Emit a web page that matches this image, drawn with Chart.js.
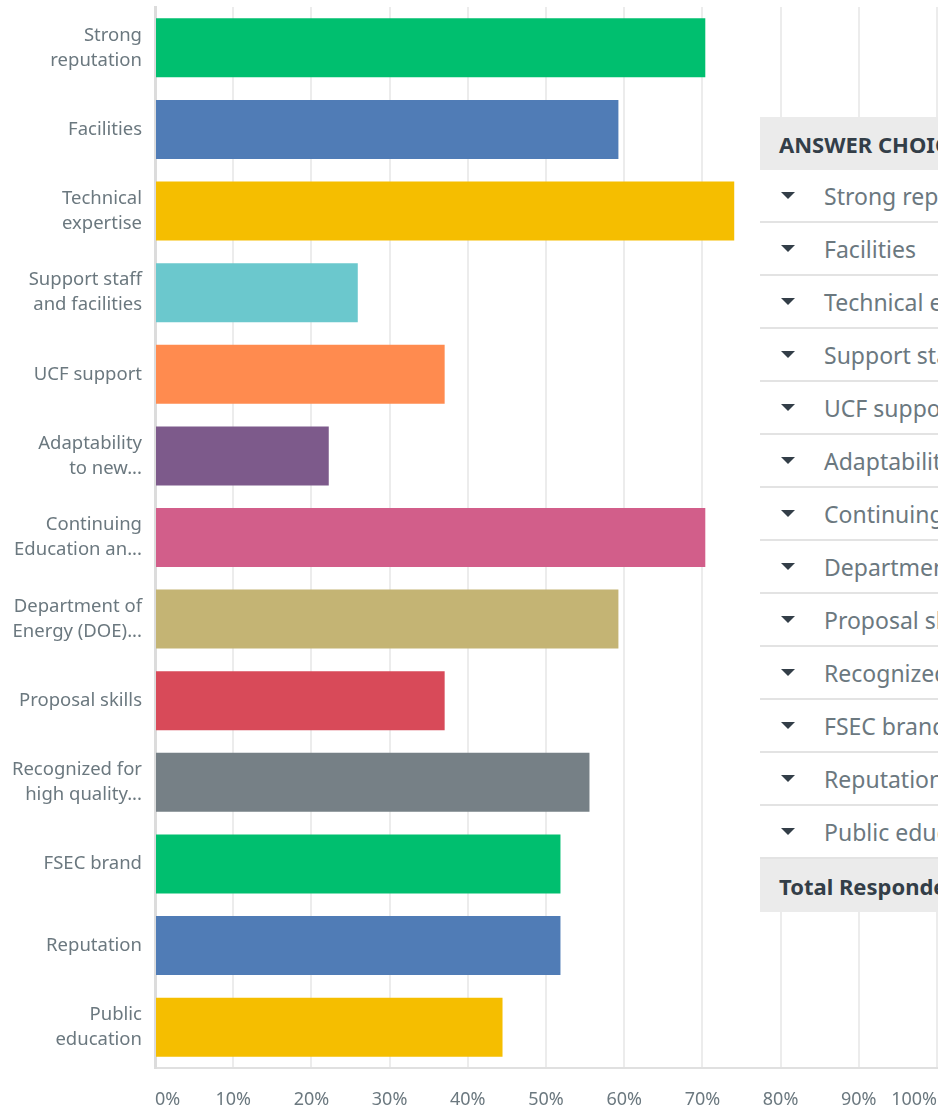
<!DOCTYPE html>
<html>
<head>
<meta charset="utf-8">
<title>Answer choices</title>
<script src="https://cdn.jsdelivr.net/npm/chart.js@4.4.1/dist/chart.umd.min.js"></script>
<style>
    html, body {
        margin: 0;
        padding: 0;
        background: #fff;
    }
    body {
        width: 938px;
        height: 1109px;
        overflow: hidden;
        position: relative;
        font-family: "Noto Sans", "Open Sans", sans-serif;
    }
    #chartWrap {
        position: absolute;
        left: 0;
        top: 0;
        width: 938px;
        height: 1109px;
    }
    /* answer table that sits over the right part of the chart */
    .answer-table {
        position: absolute;
        left: 760px;
        top: 117px;
        width: 700px;
        background: #fff;
        color: #6b787f;
    }
    .answer-table .row {
        height: 51px;
        border-bottom: 2px solid #e3e3e3;
        display: flex;
        align-items: center;
        font-size: 23px;
        white-space: nowrap;
    }
    .answer-table .head,
    .answer-table .total {
        height: 53px;
        background: #ebebeb;
        display: flex;
        align-items: center;
        padding-left: 19px;
        font-weight: bold;
        font-size: 22px;
        color: #333e48;
        white-space: nowrap;
    }
    .answer-table .row:last-of-type {
        border-bottom: none;
    }
    .caret {
        width: 0;
        height: 0;
        margin-left: 21px;
        margin-right: 29px;
        border-left: 7px solid transparent;
        border-right: 7px solid transparent;
        border-top: 7px solid #333e48;
    }
</style>
</head>
<body>
<div id="chartWrap"><canvas id="answersChart" width="938" height="1109"></canvas></div>
<div class="answer-table" id="answerTable"></div>

<script>
// Answer choices (chart labels are wrapped/truncated like the source)
const categories = [
    ['Strong', 'reputation'],
    ['Facilities'],
    ['Technical', 'expertise'],
    ['Support staff', 'and facilities'],
    ['UCF support'],
    ['Adaptability', 'to new...'],
    ['Continuing', 'Education an...'],
    ['Department of', 'Energy (DOE)...'],
    ['Proposal skills'],
    ['Recognized for', 'high quality...'],
    ['FSEC brand'],
    ['Reputation'],
    ['Public', 'education']
];

// Table row labels (cut off by the right edge)
const tableRows = [
    'Strong reputation', 'Facilities', 'Technical expertise', 'Support staff and facilities',
    'UCF support', 'Adaptability to new', 'Continuing Education and', 'Department of Energy (DOE)',
    'Proposal skills', 'Recognized for high quality', 'FSEC brand', 'Reputation', 'Public education'
];

// Percent of respondents
const percents = [70.37, 59.26, 74.07, 25.93, 37.04, 22.22, 70.37, 59.26, 37.04, 55.56, 51.85, 51.85, 44.44];

const barColors = [
    '#00bf6f', '#507cb6', '#f5be00', '#6bc8cd', '#ff8b4f', '#7d5a8b',
    '#d25e8a', '#c4b474', '#d84a59', '#768086', '#00bf6f', '#507cb6', '#f5be00'
];

const xTicks = [0, 10, 20, 30, 40, 50, 60, 70, 80, 90, 100];

const labelFont = { family: '"Noto Sans", "Open Sans", sans-serif', size: 18.5, lineHeight: '25px' };
const labelColor = '#6b787f';

document.addEventListener('DOMContentLoaded', () => {
    initAnswersChart();
    renderTable();
});

function initAnswersChart() {
    const ctx = document.getElementById('answersChart');
    if (!ctx) return;

    window.answersChartInstance = new Chart(ctx, {
        type: 'bar',
        data: {
            labels: categories,
            datasets: [{
                data: percents,
                backgroundColor: barColors,
                borderWidth: 0,
                categoryPercentage: 1,
                barPercentage: 0.723
            }]
        },
        options: {
            indexAxis: 'y',
            responsive: false,
            maintainAspectRatio: false,
            animation: false,
            layout: {
                padding: { top: 7, right: 1, bottom: 0, left: 0 }
            },
            plugins: {
                legend: { display: false },
                tooltip: { enabled: false }
            },
            scales: {
                x: {
                    min: 0,
                    max: 100,
                    afterFit: (scale) => {
                        scale.height = 41;
                        scale.paddingLeft = 0;
                        scale.paddingRight = 0;
                    },
                    afterBuildTicks: (scale) => {
                        scale.ticks = xTicks.map(v => ({ value: v }));
                    },
                    grid: {
                        color: '#ececec',
                        lineWidth: 2,
                        drawTicks: false
                    },
                    border: { color: '#e0e0e0', width: 2 },
                    ticks: {
                        align: 'inner',
                        padding: 21,
                        color: labelColor,
                        font: { family: labelFont.family, size: 18 },
                        callback: (v) => v + '%'
                    }
                },
                y: {
                    afterFit: (scale) => {
                        scale.width = 155;
                        scale.paddingTop = 0;
                        scale.paddingBottom = 0;
                    },
                    grid: { display: false, drawTicks: false },
                    border: { color: '#dcdcdc', width: 3 },
                    ticks: {
                        padding: 13,
                        color: labelColor,
                        font: labelFont
                    }
                }
            }
        }
    });
}

function renderTable() {
    const container = document.getElementById('answerTable');
    if (!container) return;

    container.innerHTML =
        '<div class="head">ANSWER CHOICES</div>' +
        tableRows.map(r => `<div class="row"><div class="caret"></div><span>${r}</span></div>`).join('') +
        '<div class="total">Total Respondents: 27</div>';
}
</script>
</body>
</html>
